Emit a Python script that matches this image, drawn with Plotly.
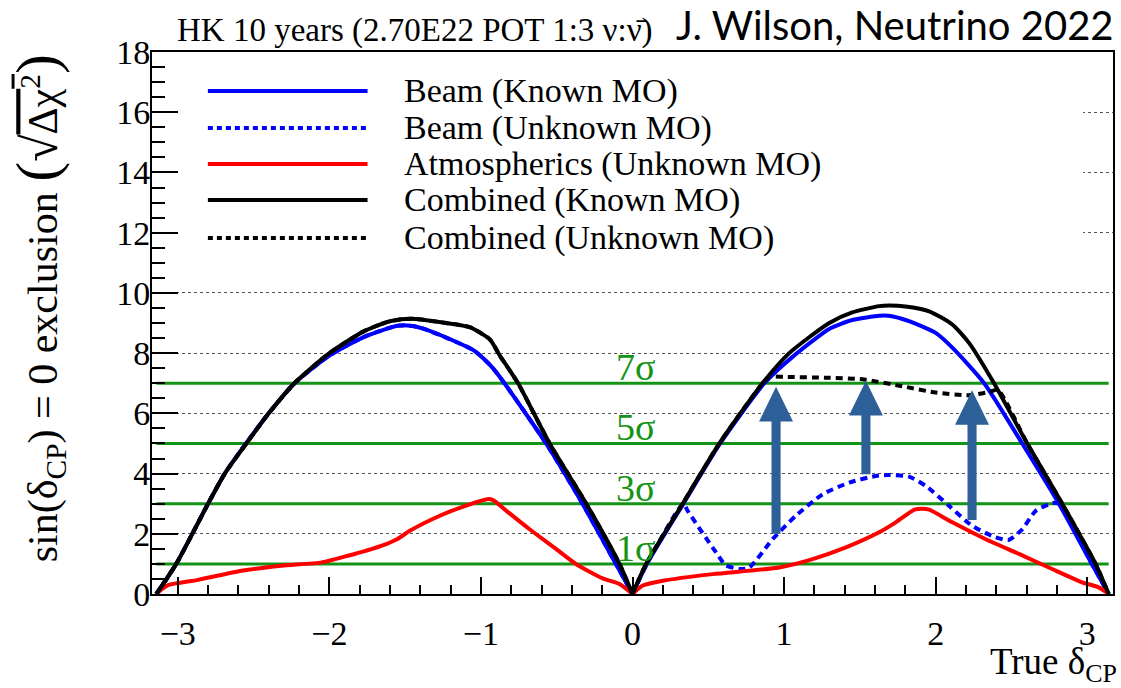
import numpy as np
import plotly.graph_objects as go

PI = np.pi

# ---------------- data ----------------
beam_known_x = [-PI, -3.01, -2.80, -2.69, -2.55, -2.40, -2.23, -2.00, -1.77, -1.55, -1.45, -1.38, -1.162,
                -1.05, -0.987, -0.921, -0.845, -0.57, -0.33, -0.11, 0.0, 0.095, 0.336, 0.578, 0.87, 1.05,
                1.30, 1.45, 1.63, 1.69, 1.825, 2.00, 2.11, 2.32, 2.571, 2.813, 3.03, PI]
beam_known_y = [0, 1, 3, 4, 5, 6, 7, 7.92, 8.54, 8.91, 8.9, 8.81, 8.37,
                8.1, 7.84, 7.5, 7.0, 5, 3, 1, 0, 1, 3, 5, 7, 7.85,
                8.81, 9.1, 9.24, 9.24, 9.06, 8.67, 8.18, 7, 5, 3, 1, 0]

beam_unknown_x = [-PI, -3.01, -2.80, -2.69, -2.55, -2.40, -2.23, -2.00, -1.77, -1.55, -1.45, -1.38, -1.162,
                  -1.05, -0.987, -0.921, -0.845, -0.57, -0.33, -0.11, 0.0, 0.095, 0.336, 0.364, 0.551, 0.614,
                  0.705, 0.771, 0.924, 1.078, 1.254, 1.43, 1.605, 1.693, 1.825, 1.935, 2.088, 2.242, 2.396,
                  2.484, 2.571, 2.66, 2.769, 2.813, 3.03, PI]
beam_unknown_y = [0, 1, 3, 4, 5, 6, 7, 7.92, 8.54, 8.91, 8.9, 8.81, 8.37,
                  8.1, 7.84, 7.5, 7.0, 5, 3, 1, 0, 1, 3, 2.76, 1.38, 0.96,
                  0.83, 0.88, 1.82, 2.6, 3.31, 3.70, 3.92, 3.95, 3.9, 3.59, 2.93, 2.26, 1.88,
                  1.80, 2.15, 2.76, 3.02, 3.0, 1, 0]

atm_x = [-PI, -3.10, -3.06, -2.865, -2.58, -2.317, -2.05, -1.877, -1.658, -1.55, -1.469, -1.271, -1.074,
         -0.96, -0.92, -0.832, -0.679, -0.503, -0.371, -0.196, -0.086, 0.0, 0.068, 0.20, 0.529, 0.968,
         1.188, 1.408, 1.627, 1.737, 1.86, 1.91, 1.957, 2.11, 2.33, 2.55, 2.769, 2.966, 3.076, PI]
atm_y = [0, 0.18, 0.30, 0.47, 0.77, 0.94, 1.05, 1.27, 1.60, 1.83, 2.1, 2.6, 2.98,
         3.15, 3.12, 2.76, 2.15, 1.49, 0.99, 0.52, 0.33, 0, 0.28, 0.44, 0.66, 0.88,
         1.16, 1.55, 2.05, 2.38, 2.8, 2.83, 2.8, 2.38, 1.82, 1.33, 0.83, 0.39, 0.22, 0]

comb_known_x = [-PI, -3.01, -2.80, -2.69, -2.547, -2.40, -2.23, -2.00, -1.77, -1.60, -1.46, -1.23, -1.074,
                -0.94, -0.877, -0.755, -0.547, -0.305, -0.086, 0.0, 0.09, 0.331, 0.573, 0.858, 1.034,
                1.298, 1.45, 1.627, 1.693, 1.80, 1.957, 2.11, 2.22, 2.385, 2.604, 2.835, 3.055, PI]
comb_known_y = [0, 1, 3, 4, 5, 6, 7, 8.0, 8.73, 9.06, 9.14, 9.0, 8.86,
                8.45, 7.93, 7, 5, 3, 1, 0, 1, 3, 5, 7, 8,
                9.0, 9.35, 9.56, 9.58, 9.55, 9.39, 8.95, 8.34, 7, 5, 3, 1, 0]

comb_unknown_x = [-PI, -3.01, -2.80, -2.69, -2.547, -2.40, -2.23, -2.00, -1.77, -1.60, -1.46, -1.23, -1.074,
                  -0.94, -0.877, -0.755, -0.547, -0.305, -0.086, 0.0, 0.09, 0.331, 0.573, 0.858, 0.902,
                  1.0, 1.298, 1.517, 1.78, 2.0, 2.22, 2.352, 2.41, 2.604, 2.835, 3.055, PI]
comb_unknown_y = [0, 1, 3, 4, 5, 6, 7, 8.0, 8.73, 9.06, 9.14, 9.0, 8.86,
                  8.45, 7.93, 7, 5, 3, 1, 0, 1, 3, 5, 7, 7.21,
                  7.21, 7.18, 7.13, 6.90, 6.69, 6.60, 6.71, 6.78, 5, 3, 1, 0]

sigma_levels = [1, 3, 5, 7]
sigma_labels = ["1σ", "3σ", "5σ", "7σ"]

arrow_x = [0.947, 1.54, 2.24]
arrow_y_from = [2.0, 3.98, 2.46]
arrow_y_to = [6.88, 7.08, 6.77]

series_names = ["Beam (Known MO)", "Beam (Unknown MO)", "Atmospherics (Unknown MO)",
                "Combined (Known MO)", "Combined (Unknown MO)"]

# ---------------- styling ----------------
SERIF = "Liberation Serif"
BLUE = "#0000ff"
RED = "#ff0000"
BLACK = "#000000"
GREEN = "#149414"
ARROW = "#2d6099"
LW = 4
DOTS = "7px,5px"

XR = [-3.17, 3.17]
YR = [0, 18]
ML, MR, MT, MB = 152, 6, 52, 94
W, H = 1121, 688
PW, PH = W - ML - MR, H - MT - MB


def dx(px):
    return XR[0] + (px - ML) / PW * (XR[1] - XR[0])


def dy(py):
    return YR[0] + (H - MB - py) / PH * (YR[1] - YR[0])


fig = go.Figure()

for lv in sigma_levels:
    fig.add_trace(go.Scatter(x=[-PI, PI], y=[lv, lv], mode="lines",
                             line=dict(color=GREEN, width=3), showlegend=False, hoverinfo="skip"))

styles = [
    (beam_known_x, beam_known_y, BLUE, "solid"),
    (beam_unknown_x, beam_unknown_y, BLUE, DOTS),
    (atm_x, atm_y, RED, "solid"),
    (comb_known_x, comb_known_y, BLACK, "solid"),
    (comb_unknown_x, comb_unknown_y, BLACK, DOTS),
]
for (xs, ys, col, dash), name in zip(styles, series_names):
    i0 = xs.index(0.0)
    # each curve has a cusp at delta_CP = 0: draw the two halves as separate smooth pieces
    for lo, hi in ((0, i0 + 1), (i0, len(xs))):
        fig.add_trace(go.Scatter(x=xs[lo:hi], y=ys[lo:hi], mode="lines", name=name,
                                 line=dict(color=col, width=LW, dash=dash, shape="spline", smoothing=0.6),
                                 showlegend=False))

shapes = []
shapes.append(dict(type="rect", xref="x", yref="y", x0=dx(156), x1=dx(1085), y0=dy(262), y1=dy(62),
                   fillcolor="white", line=dict(width=0), layer="between"))
leg_rows = [91, 128, 164, 200, 238]
leg_dash = ["solid", "5px,4px", "solid", "solid", "5px,4px"]
for (xs, ys, col, _), name, row, dsh in zip(styles, series_names, leg_rows, leg_dash):
    shapes.append(dict(type="line", xref="x", yref="y", x0=dx(208), x1=dx(368), y0=dy(row), y1=dy(row),
                       line=dict(color=col, width=LW, dash=dsh), layer="above"))

SW, HW, HL = 0.03, 0.112, 1.15
for ax_, y0, y1 in zip(arrow_x, arrow_y_from, arrow_y_to):
    yb = y1 - HL
    path = (f"M{ax_ - SW},{y0} L{ax_ + SW},{y0} L{ax_ + SW},{yb} L{ax_ + HW},{yb} "
            f"L{ax_},{y1} L{ax_ - HW},{yb} L{ax_ - SW},{yb} Z")
    shapes.append(dict(type="path", xref="x", yref="y", path=path, fillcolor=ARROW,
                       line=dict(width=0), layer="above"))

annotations = []
for name, row in zip(series_names, leg_rows):
    annotations.append(dict(x=dx(403), y=dy(row), xref="x", yref="y", text=name, showarrow=False,
                            xanchor="left", yanchor="middle", font=dict(family=SERIF, size=34, color="black")))

for lv, lab in zip(sigma_levels, sigma_labels):
    annotations.append(dict(x=0.02, y=lv, xref="x", yref="y", text=lab, showarrow=False,
                            xanchor="center", yanchor="bottom", yshift=-7,
                            font=dict(family=SERIF, size=38, color=GREEN)))

annotations.append(dict(x=(175 - ML) / PW, y=1 + (MT - 30) / PH, xref="paper", yref="paper",
                        text="HK 10 years (2.70E22 POT 1:3 ν:ν\u0304)", showarrow=False,
                        xanchor="left", yanchor="middle", font=dict(family=SERIF, size=33, color="black")))
annotations.append(dict(x=(1118 - ML) / PW, y=1 + (MT - 25) / PH, xref="paper", yref="paper",
                        text="J. Wilson, Neutrino 2022", showarrow=False,
                        xanchor="right", yanchor="middle", font=dict(family="Lato", size=40, color="black")))
annotations.append(dict(x=(1121 - ML) / PW, y=-(664 - (H - MB)) / PH, xref="paper", yref="paper",
                        text="True δ<sub>CP</sub>", showarrow=False,
                        xanchor="right", yanchor="middle", font=dict(family=SERIF, size=37, color="black")))
annotations.append(dict(x=(38 - ML) / PW, y=(H - MB - 308) / PH, xref="paper", yref="paper",
                        text=("sin(δ<sub>CP</sub>) = 0 exclusion "
                              "<span style='font-size:60px'>(</span>"
                              "<span style='font-size:50px'>√</span>"
                              "<span style='text-decoration:overline'>Δχ<sup>2</sup></span>"
                              "<span style='font-size:60px'>)</span>"),
                        showarrow=False, textangle=-90, xanchor="center", yanchor="middle",
                        font=dict(family=SERIF, size=42, color="black")))

fig.update_layout(
    width=W, height=H, margin=dict(l=ML, r=MR, t=MT, b=MB),
    paper_bgcolor="white", plot_bgcolor="white", showlegend=False,
    shapes=shapes, annotations=annotations,
    xaxis=dict(range=XR, showgrid=False, zeroline=False, showline=True, linecolor="black", linewidth=2,
               mirror=True, ticks="inside", ticklen=17, tickwidth=1.5, tickcolor="black",
               tick0=0, dtick=1, ticklabelstandoff=8,
               minor=dict(ticks="inside", ticklen=9, tickwidth=1.5, tickcolor="black", tick0=0, dtick=0.2),
               tickfont=dict(family=SERIF, size=34, color="black")),
    yaxis=dict(range=YR, showgrid=True, griddash="dot", gridcolor="#555555", gridwidth=1,
               zeroline=False, showline=True, linecolor="black", linewidth=2, mirror=True,
               ticks="inside", ticklen=26, tickwidth=1.5, tickcolor="black", tick0=0, dtick=2,
               ticklabelstandoff=-7,
               minor=dict(ticks="inside", ticklen=13, tickwidth=1.5, tickcolor="black", tick0=0, dtick=0.5),
               tickfont=dict(family=SERIF, size=34, color="black")),
)

fig.write_html("out.html")
